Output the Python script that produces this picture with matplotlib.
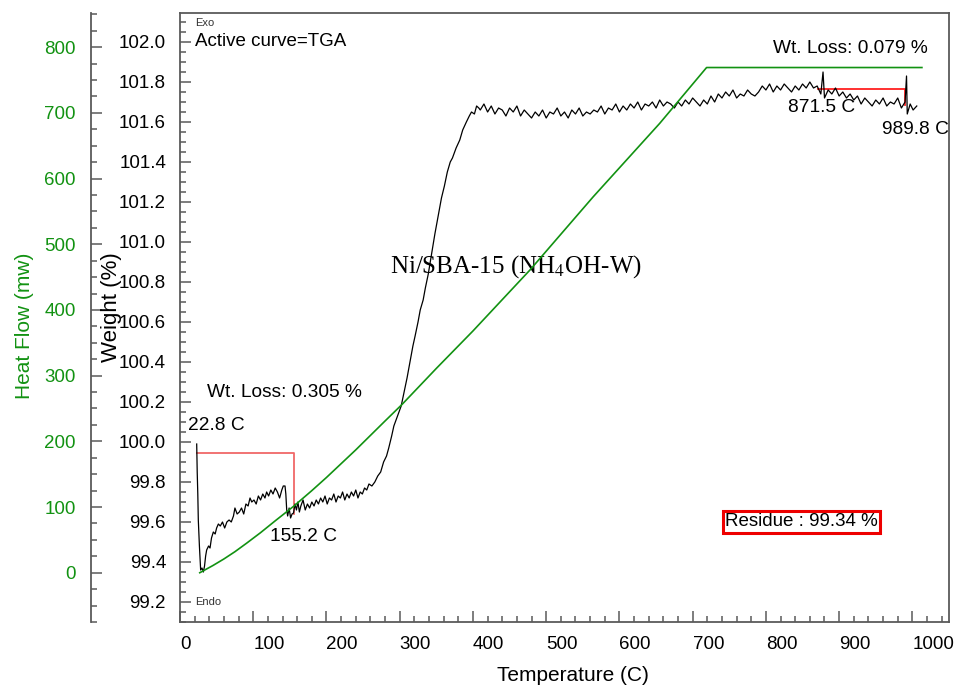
import matplotlib
matplotlib.use("Agg")
import matplotlib.pyplot as plt
from matplotlib.ticker import MultipleLocator, FormatStrFormatter

plt.rcParams["font.family"] = ["Liberation Sans", "DejaVu Sans"]
plt.rcParams["mathtext.fontset"] = "stix"

# TGA weight curve
temp_tga = [
    22.8, 23.5, 24.3, 25.0, 26.5, 28.2, 30.0, 31.9, 33.5, 35.0, 36.4, 39, 41, 43, 45.5,
    48, 50, 52.4, 55, 58, 61, 64, 67, 70, 73, 75, 78, 81, 84, 87, 90, 93, 95.6, 98,
    101, 104, 107, 110, 113, 116, 118.3, 121, 124, 127, 130, 133, 136, 139, 141, 143.4,
    144.5, 145.7, 147, 149, 151, 153, 155, 157, 159, 161, 163, 165, 168, 171, 174, 177,
    180, 183, 186, 189, 192, 195, 198, 201, 204, 207, 210, 213, 216, 219, 222, 225, 228,
    231, 234, 237, 240, 243, 246, 249, 252, 255, 258, 262, 266, 270, 274, 278, 282, 285,
    289, 292, 296, 299, 302, 306, 310, 314, 318, 321, 325, 328, 332, 335, 339, 343, 348,
    352, 357, 361, 365, 369, 372, 377, 382, 386, 391, 395, 398, 402, 405, 408,
    410, 415, 420, 425, 430, 435, 440, 445, 450, 455, 460, 465, 470, 475, 480, 485, 490,
    495, 500, 505, 510, 515, 520, 525, 530, 535, 540, 545, 550, 555, 560, 565, 570, 575,
    580, 585, 590, 595, 600, 605, 610, 615, 620, 625, 630, 635, 640, 645, 650, 655, 660,
    665, 670, 675, 680, 685, 690, 695, 700, 705, 710, 715, 720, 725, 730, 735, 740, 745,
    750, 755, 760, 765, 770, 775, 780, 785, 790, 795, 800, 805, 810, 815, 820, 825, 830,
    835, 840, 845, 850, 855, 860, 865, 870, 875, 878, 880, 885, 890, 895, 900, 905, 910,
    915, 920, 925, 930, 935, 940, 945, 950, 955, 960, 965, 970, 975, 980, 985, 990, 992,
    993, 997, 1001, 1006,
]
weight = [
    99.99, 99.85, 99.74, 99.61, 99.48, 99.36, 99.37, 99.35, 99.38, 99.43, 99.46, 99.48,
    99.47, 99.52, 99.55, 99.54, 99.57, 99.59, 99.58, 99.60, 99.57, 99.60, 99.61, 99.60,
    99.63, 99.67, 99.64, 99.65, 99.67, 99.64, 99.69, 99.68, 99.72, 99.70, 99.71, 99.69,
    99.73, 99.71, 99.74, 99.72, 99.75, 99.73, 99.76, 99.74, 99.77, 99.75, 99.72, 99.76,
    99.78, 99.78, 99.74, 99.66, 99.63, 99.67, 99.62, 99.64, 99.645, 99.69, 99.66, 99.70,
    99.65, 99.68, 99.71, 99.66, 99.69, 99.67, 99.70, 99.68, 99.71, 99.69, 99.72, 99.70,
    99.73, 99.69, 99.72, 99.71, 99.74, 99.70, 99.73, 99.72, 99.75, 99.71, 99.74, 99.72,
    99.75, 99.73, 99.76, 99.72, 99.75, 99.74, 99.77, 99.76, 99.79, 99.78, 99.80, 99.83,
    99.85, 99.90, 99.93, 99.97, 100.03, 100.08, 100.12, 100.15, 100.18, 100.25, 100.32,
    100.40, 100.48, 100.53, 100.60, 100.66, 100.71, 100.77, 100.84, 100.93, 101.04, 101.12,
    101.22, 101.28, 101.35, 101.40, 101.42, 101.47, 101.51, 101.56, 101.60, 101.63, 101.65,
    101.64, 101.68, 101.67,
    101.66, 101.69, 101.65, 101.68, 101.64, 101.67, 101.66, 101.63, 101.67, 101.65, 101.68,
    101.63, 101.66, 101.64, 101.62, 101.65, 101.63, 101.66, 101.62, 101.65, 101.64, 101.67,
    101.63, 101.65, 101.62, 101.66, 101.64, 101.67, 101.63, 101.65, 101.64, 101.66, 101.65,
    101.68, 101.64, 101.67, 101.66, 101.69, 101.65, 101.68, 101.66, 101.69, 101.67, 101.70,
    101.66, 101.69, 101.68, 101.70, 101.67, 101.71, 101.68, 101.70, 101.69, 101.67, 101.70,
    101.68, 101.71, 101.69, 101.72, 101.70, 101.68, 101.71, 101.69, 101.73, 101.70, 101.74,
    101.72, 101.75, 101.73, 101.76, 101.72, 101.74, 101.73, 101.76, 101.74, 101.73, 101.75,
    101.78, 101.76, 101.79, 101.75, 101.78, 101.76, 101.79, 101.77, 101.75, 101.78, 101.76,
    101.79, 101.77, 101.80, 101.77, 101.78, 101.74, 101.85, 101.72, 101.76, 101.74, 101.77,
    101.73, 101.75, 101.72, 101.74, 101.71, 101.73, 101.69, 101.72, 101.70, 101.68, 101.71,
    101.69, 101.72, 101.68, 101.70, 101.69, 101.72, 101.67, 101.70, 101.83, 101.64, 101.69,
    101.66, 101.68,
]

# heat flow curve
temp_hf = [27, 45, 60, 75, 91, 110, 130, 155, 180, 200, 220, 240, 260, 280, 303, 350,
           400, 478, 564, 655, 719, 1013]
heat_flow = [0, 11, 21, 32, 45, 61, 79, 101, 125, 145, 166, 187, 209, 231, 256, 311,
             368, 461, 572, 684, 769, 769]

# step analysis markers
step1 = (22.8, 155.2, 99.946, 0.305)
step2 = (871.5, 989.8, 101.763, 0.079)

GREEN = "#129212"
GREY = "#5a5a5a"

fig = plt.figure(figsize=(9.57, 6.91), dpi=100)
ax = fig.add_axes([180 / 957, 69 / 691, 769 / 957, 609 / 691])
ax2 = ax.twinx()

ax.plot(temp_tga, weight, color="black", lw=0.9, zorder=3)
ax2.plot(temp_hf, heat_flow, color=GREEN, lw=1.2, zorder=2)

# red step lines
t0, t1, w0, loss = step1
ax.plot([t0, t1, t1], [w0, w0, w0 - loss], color="#f06868", lw=1.3, zorder=2)
t0, t1, w0, loss = step2
ax.plot([t0, t1, t1], [w0, w0, w0 - loss], color="#ff2020", lw=1.3, zorder=2)

ax.set_xlim(0, 1050)
ax.set_ylim(99.1, 102.145)
ax2.set_ylim(-75, 852)

ax.xaxis.set_major_locator(MultipleLocator(100))
ax.xaxis.set_minor_locator(MultipleLocator(20))
ax.yaxis.set_major_locator(MultipleLocator(0.2))
ax.yaxis.set_minor_locator(MultipleLocator(0.05))
ax.yaxis.set_major_formatter(FormatStrFormatter("%.1f"))
ax2.yaxis.set_major_locator(MultipleLocator(100))
ax2.yaxis.set_minor_locator(MultipleLocator(25))

for s in ax.spines.values():
    s.set_color(GREY)
    s.set_linewidth(1.3)
for name in ["right", "top", "bottom"]:
    ax2.spines[name].set_visible(False)
ax2.spines["left"].set_visible(True)
ax2.spines["left"].set_position(("outward", 89 * 0.72))
ax2.spines["left"].set_color(GREY)
ax2.spines["left"].set_linewidth(1.3)
ax2.yaxis.set_ticks_position("left")

ax.tick_params(which="both", direction="in", colors=GREY, labelcolor="black",
               labelsize=13.5, width=1.1, top=False, right=False)
ax.tick_params(which="major", length=8, pad=10)
ax.tick_params(which="minor", length=4)
ax2.tick_params(which="both", direction="in", colors=GREY, labelcolor=GREEN,
                labelsize=13.5, width=1.1)
ax2.tick_params(which="major", length=8, pad=11)
ax2.tick_params(which="minor", length=4)

for lbl in ax.get_xticklabels():
    lbl.set_ha("left")

fig.text(0.026, 0.528, "Heat Flow (mw)", rotation=90, color=GREEN, fontsize=15,
         ha="center", va="center")
fig.text(0.116, 0.555, "Weight (%)", rotation=90, color="black", fontsize=16,
         ha="center", va="center")
fig.text(0.599, 0.023, "Temperature (C)", color="black", fontsize=15, ha="center", va="center")

ax.text(20.5, 102.095, "Exo", fontsize=8, color="#333333", va="center")
ax.text(20.5, 99.2, "Endo", fontsize=8, color="#333333", va="center")
ax.text(20.5, 102.0, "Active curve=TGA", fontsize=13.5, va="center")

ax.text(11.4, 100.085, "22.8 C", fontsize=13.8, va="center")
ax.text(36.5, 100.246, "Wt. Loss: 0.305 %", fontsize=13.8, va="center")
ax.text(123.5, 99.526, "155.2 C", fontsize=13.8, va="center")
ax.text(809.4, 101.965, "Wt. Loss: 0.079 %", fontsize=13.8, va="center")
ax.text(830.3, 101.67, "871.5 C", fontsize=13.8, va="center")
ax.text(958.6, 101.56, "989.8 C", fontsize=13.8, va="center")
ax.text(744.2, 99.60, "Residue : 99.34 %", fontsize=13.5, va="center",
        bbox=dict(boxstyle="square,pad=0.12", fc="white", ec="#ee0000", lw=2.2))
ax.text(286.8, 100.846, "Ni/SBA-15 (NH$_4$OH-W)", fontsize=18, va="baseline",
        family=["Liberation Serif", "DejaVu Serif"], zorder=5)

fig.savefig("out.png", dpi=100)
